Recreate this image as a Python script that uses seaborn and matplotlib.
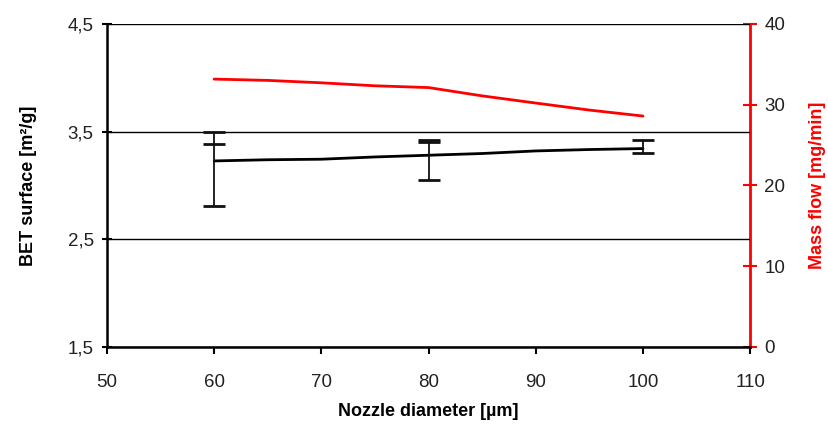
import numpy as np
import pandas as pd
import matplotlib
matplotlib.use("Agg")
import matplotlib.pyplot as plt
import seaborn as sns
from matplotlib.ticker import FuncFormatter

# Nozzle diameter readings (µm) along the two fitted curves
diameter = [60, 65, 70, 75, 80, 85, 90, 95, 100]
bet_curve = [3.227, 3.238, 3.243, 3.264, 3.280, 3.296, 3.320, 3.333, 3.342]
massflow_curve = [33.17, 33.01, 32.71, 32.34, 32.12, 31.09, 30.20, 29.33, 28.59]

# Measured nozzles with BET scatter
nozzle = [60, 80, 100]
bet_centre = [3.233, 3.280, 3.342]
bet_low = [2.81, 3.05, 3.30]
bet_high = [3.50, 3.42, 3.42]
bet_inner = [3.38, 3.40, np.nan]

x_ticks = [50, 60, 70, 80, 90, 100, 110]
bet_ticks = [1.5, 2.5, 3.5, 4.5]
flow_ticks = [0, 10, 20, 30, 40]

sns.set_theme(style="white")
plt.rcParams["font.family"] = ["Liberation Sans", "DejaVu Sans"]

fig = plt.figure(figsize=(8.29, 4.30), dpi=100)
ax = fig.add_axes([0.129, 0.1937, 0.776, 0.7505])
ax2 = ax.twinx()

curves = pd.DataFrame({"d": diameter, "bet": bet_curve, "flow": massflow_curve})

# BET surface curve (left axis)
sns.lineplot(data=curves, x="d", y="bet", ax=ax, color="black", lw=2.0, legend=False)

# error bars on BET surface
c = np.array(bet_centre)
yerr = [c - np.array(bet_low), np.array(bet_high) - c]
ax.errorbar(nozzle, bet_centre, yerr=yerr, fmt="none", ecolor="#111111",
            elinewidth=1.3, capsize=8, capthick=2.0, zorder=4)
ax.plot(nozzle, bet_inner, ls="none", marker="_", ms=16, mew=2.0,
        color="#111111", zorder=4)

# mass flow curve (right axis)
sns.lineplot(data=curves, x="d", y="flow", ax=ax2, color="#ff0000", lw=2.0, legend=False)

# axes ranges and ticks
ax.set_xlim(50, 110)
ax.set_ylim(1.5, 4.5)
ax2.set_ylim(0, 40)
ax.set_xticks(x_ticks)
ax.set_yticks(bet_ticks)
ax2.set_yticks(flow_ticks)
ax.yaxis.set_major_formatter(FuncFormatter(lambda v, p: f"{v:.1f}".replace(".", ",")))

# horizontal grid lines; the top one is drawn lighter
ax.yaxis.grid(True, color="black", lw=1.0)
ax.xaxis.grid(False)
ax2.grid(False)
for tick in ax.yaxis.get_major_ticks():
    loc = tick.get_loc()
    if np.isclose(loc, 4.5):
        tick.gridline.set_color("#9a9a9a")
    if np.isclose(loc, 1.5):
        tick.gridline.set_visible(False)

# spines
for s in ["top", "right"]:
    ax.spines[s].set_visible(False)
for s in ["top", "left", "bottom"]:
    ax2.spines[s].set_visible(False)
ax.spines["left"].set_color("black")
ax.spines["left"].set_linewidth(1.8)
ax.spines["bottom"].set_color("black")
ax.spines["bottom"].set_linewidth(1.8)
ax2.spines["right"].set_color("#ff0000")
ax2.spines["right"].set_linewidth(2.0)

tick_color = "#222222"
ax.tick_params(axis="x", direction="out", length=5, width=1.5, color="black",
               labelsize=13.5, labelcolor=tick_color, pad=15, bottom=True)
ax.tick_params(axis="y", direction="inout", length=7, width=1.5, color="black",
               labelsize=13.5, labelcolor=tick_color, pad=6, left=True)
ax2.tick_params(axis="y", direction="inout", length=10, width=1.5, color="#ff0000",
                labelsize=13.5, labelcolor=tick_color, pad=5, right=True)

ax.set_xlabel("Nozzle diameter [µm]", fontsize=13, fontweight="bold", color="black")
ax.set_ylabel("BET surface [m²/g]", fontsize=13, fontweight="bold", color="black")
ax2.set_ylabel("Mass flow [mg/min]", fontsize=13, fontweight="bold", color="#ff0000")
ax.xaxis.set_label_coords(0.5, -0.175)
ax.yaxis.set_label_coords(-0.109, 0.5)
ax2.yaxis.set_label_coords(1.091, 0.5)

ax.set_zorder(ax2.get_zorder() + 1)
ax.patch.set_visible(False)

fig.savefig("out.png", dpi=100, facecolor="white")
